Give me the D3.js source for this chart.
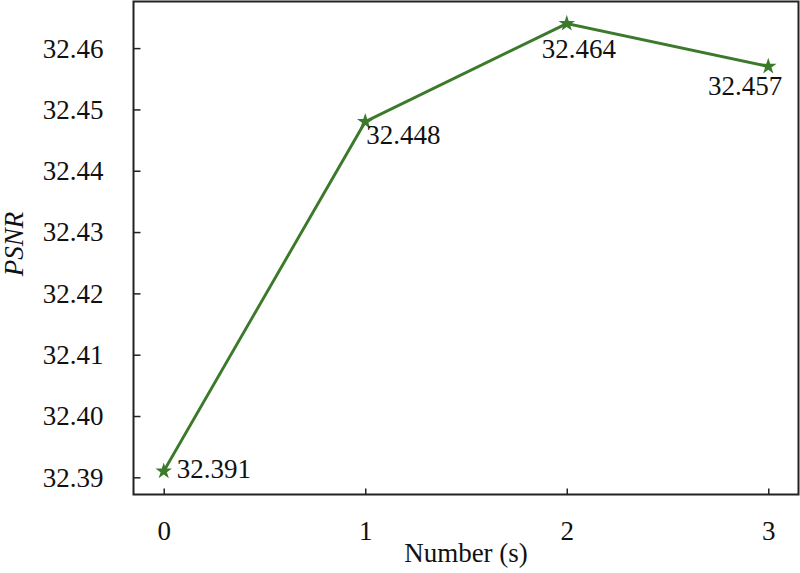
<!DOCTYPE html>
<html><head><meta charset="utf-8">
<script src="https://cdn.jsdelivr.net/npm/d3@7"></script>
<style>body{margin:0;background:#fff}svg{display:block}text{font-family:"Liberation Serif","Times New Roman",serif;fill:#111}</style>
</head><body><svg id="c" width="800" height="573"></svg>
<script>
const categories = [0, 1, 2, 3];
const psnr = [32.391, 32.448, 32.464, 32.457];
const yTicks = [32.39, 32.40, 32.41, 32.42, 32.43, 32.44, 32.45, 32.46];
const labelOffsets = [[13, 7, "start"], [1, 22, "start"], [-25, 34, "start"], [14, 29, "end"]];

const svg = d3.select("#c");
const L = 133.5, R = 798.5, T = 1.5, B = 494.5;
const x = d3.scaleLinear().domain([-0.15, 3.15]).range([L, R]);
const y = d3.scaleLinear().domain([32.3872, 32.4676]).range([B, T]);
const color = "#3b792b";
const fs = 27;

// frame
svg.append("rect").attr("x", L).attr("y", T).attr("width", R - L).attr("height", B - T)
  .attr("fill", "none").attr("stroke", "#222").attr("stroke-width", 2);

// y axis
const ya = svg.append("g").attr("transform", `translate(${L},0)`)
  .call(d3.axisLeft(y).tickValues(yTicks).tickFormat(d3.format(".2f")).tickSize(-7).tickPadding(30));
ya.select(".domain").remove();
ya.selectAll("line").attr("stroke", "#222").attr("stroke-width", 1.5);
ya.selectAll("text").style("font-size", fs + "px").attr("dy", "0.33em").style("font-family", "Liberation Serif");

// x axis
const xa = svg.append("g").attr("transform", `translate(0,${B})`)
  .call(d3.axisBottom(x).tickValues(categories).tickFormat(d3.format("d")).tickSize(-6).tickPadding(26));
xa.select(".domain").remove();
xa.selectAll("line").attr("stroke", "#222").attr("stroke-width", 1.5);
xa.selectAll("text").style("font-size", fs + "px").attr("dy", "0.71em").style("font-family", "Liberation Serif");

// axis titles
svg.append("text").attr("x", 466).attr("y", 562).attr("text-anchor", "middle")
  .style("font-size", "27px").text("Number (s)");
svg.append("text").attr("transform", "translate(23,244) rotate(-90)").attr("text-anchor", "middle")
  .style("font-size", "27px").style("font-style", "italic").text("PSNR");

// line
const pts = categories.map((c, i) => [c, psnr[i]]);
svg.append("path").datum(pts)
  .attr("d", d3.line().x(d => x(d[0])).y(d => y(d[1])))
  .attr("fill", "none").attr("stroke", color).attr("stroke-width", 2.9);

// markers
svg.selectAll(".m").data(pts).enter().append("path")
  .attr("transform", d => `translate(${x(d[0])},${y(d[1])})`)
  .attr("d", d3.symbol().type(d3.symbolStar).size(85))
  .attr("fill", color);

// labels
svg.selectAll(".lb").data(pts).enter().append("text")
  .attr("x", (d, i) => x(d[0]) + labelOffsets[i][0])
  .attr("y", (d, i) => y(d[1]) + labelOffsets[i][1])
  .attr("text-anchor", (d, i) => labelOffsets[i][2])
  .style("font-size", fs + "px")
  .text(d => d[1].toFixed(3));
</script></body></html>
